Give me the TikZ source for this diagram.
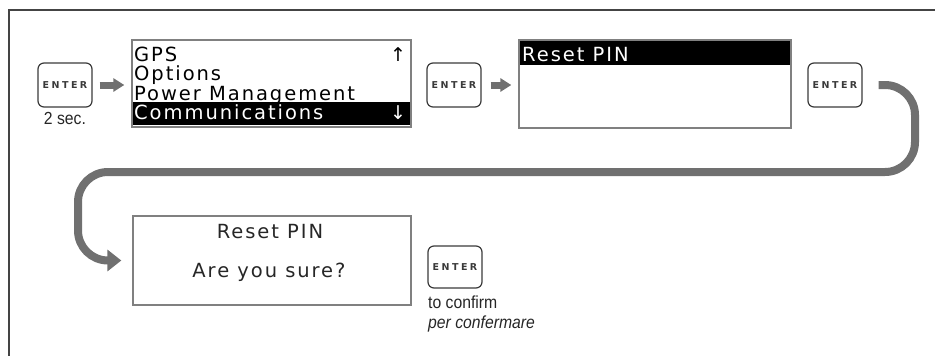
\documentclass[tikz,border=0pt]{standalone}
\usepackage{fontspec}
\setmainfont{Liberation Sans}
\newfontfamily\lcd[LetterSpace=10]{DejaVu Sans}
\newfontfamily\arrfont{DejaVu Sans}
\newfontfamily\keyfont[LetterSpace=26]{DejaVu Sans}
\usetikzlibrary{arrows.meta}
\definecolor{framec}{HTML}{444444}
\definecolor{boxc}{HTML}{808080}
\definecolor{keyc}{HTML}{3A3A3A}
\definecolor{conn}{HTML}{707070}
\newcommand{\narrow}[1]{\scalebox{0.9}[1]{#1}}
\tikzset{
  lcdbox/.style={draw=boxc, line width=1.3pt, rectangle, inner sep=0pt},
  bar/.style={fill=black, rectangle, inner sep=0pt},
  keybox/.style={draw=keyc, line width=1.2pt, rounded corners=6pt, rectangle,
    minimum width=54pt, minimum height=44pt, inner sep=0pt,
    font=\keyfont\bfseries\fontsize{9.5}{9.5}\selectfont, text=keyc},
  lcdtext/.style={inner sep=0pt, anchor=base west, font=\lcd\fontsize{19.5}{19.5}\selectfont},
  lcdmid/.style={inner sep=0pt, anchor=base, font=\lcd\fontsize{19.5}{19.5}\selectfont, text=black!85},
  arrtext/.style={inner sep=0pt, anchor=base, font=\arrfont\fontsize{19}{19}\selectfont},
  note/.style={inner sep=0pt, font=\fontsize{17.5}{17.5}\selectfont, text=black!85},
  smallarrow/.style={draw=conn, line width=7pt, -{Triangle[width=13pt,length=11pt]}},
  bigconn/.style={draw=conn, line width=8pt, rounded corners=30pt, -{Triangle[width=21pt,length=14pt]}}
}
\begin{document}
\begin{tikzpicture}[x=1pt,y={(0pt,-1pt)}]
\useasboundingbox (0,0) rectangle (935,356);
% frame
\draw[framec, line width=2pt] (8.5,356) -- (8.5,10) -- (935,10);

% keys
\node[keybox] (key1) at (65,85) {ENTER};
\node[note, anchor=base] (sec) at (65,124) {\narrow{2 sec.}};
\node[keybox] (key2) at (454,85) {ENTER};
\node[keybox] (key3) at (835,85) {ENTER};
\node[keybox, minimum height=42pt] (key4) at (455,267) {ENTER};
\node[note, anchor=base west] (conf) at (428,308) {\narrow{to confirm}};
\node[note, anchor=base west, font=\itshape\fontsize{17.5}{17.5}\selectfont] (confit) at (428,328) {\narrow{per confermare}};

% menu box 1
\node[bar, minimum width=279pt, minimum height=23pt] (bar1) at (271.5,113.5) {};
\node[lcdbox, minimum width=279pt, minimum height=87pt] (menu1) at (271.5,83.5) {};
\node[lcdtext] (gps) at (134,61) {GPS};
\node[lcdtext] (opt) at (134,80.5) {Options};
\node[lcdtext] (pow) at (134,100) {Power Management};
\node[lcdtext, text=white] (com) at (134,119) {Communications};
\node[arrtext] (up) at (398,61) {↑};
\node[arrtext, text=white] (down) at (398,119) {↓};

% box 2
\node[bar, minimum width=272pt, minimum height=25pt] (bar2) at (655,52.5) {};
\node[lcdbox, minimum width=272pt, minimum height=88pt] (box2) at (655,84) {};
\node[lcdtext, text=white] (rp1) at (522,61) {Reset PIN};

% box 3
\node[lcdbox, minimum width=278pt, minimum height=89pt] (box3) at (272,260.5) {};
\node[lcdmid] (rp2) at (270,238) {Reset PIN};
\node[lcdmid] (sure) at (269,277) {Are you sure?};

% arrows
\draw[smallarrow, shorten <=7pt, shorten >=7pt] (key1) -- (menu1.west |- key1);
\draw[smallarrow, shorten <=9pt, shorten >=7pt] (key2) -- (box2.west |- key2);
\coordinate (c1) at (915,85);
\coordinate (c2) at (915,172);
\coordinate (c3) at (78,172);
\coordinate (c4) at (78,260.5);
\draw[bigconn] ([xshift=16pt]key3.east) -- (c1) -- (c2) -- (c3) -- (c4) -- ([xshift=-11pt]box3.west);
\end{tikzpicture}
\end{document}
